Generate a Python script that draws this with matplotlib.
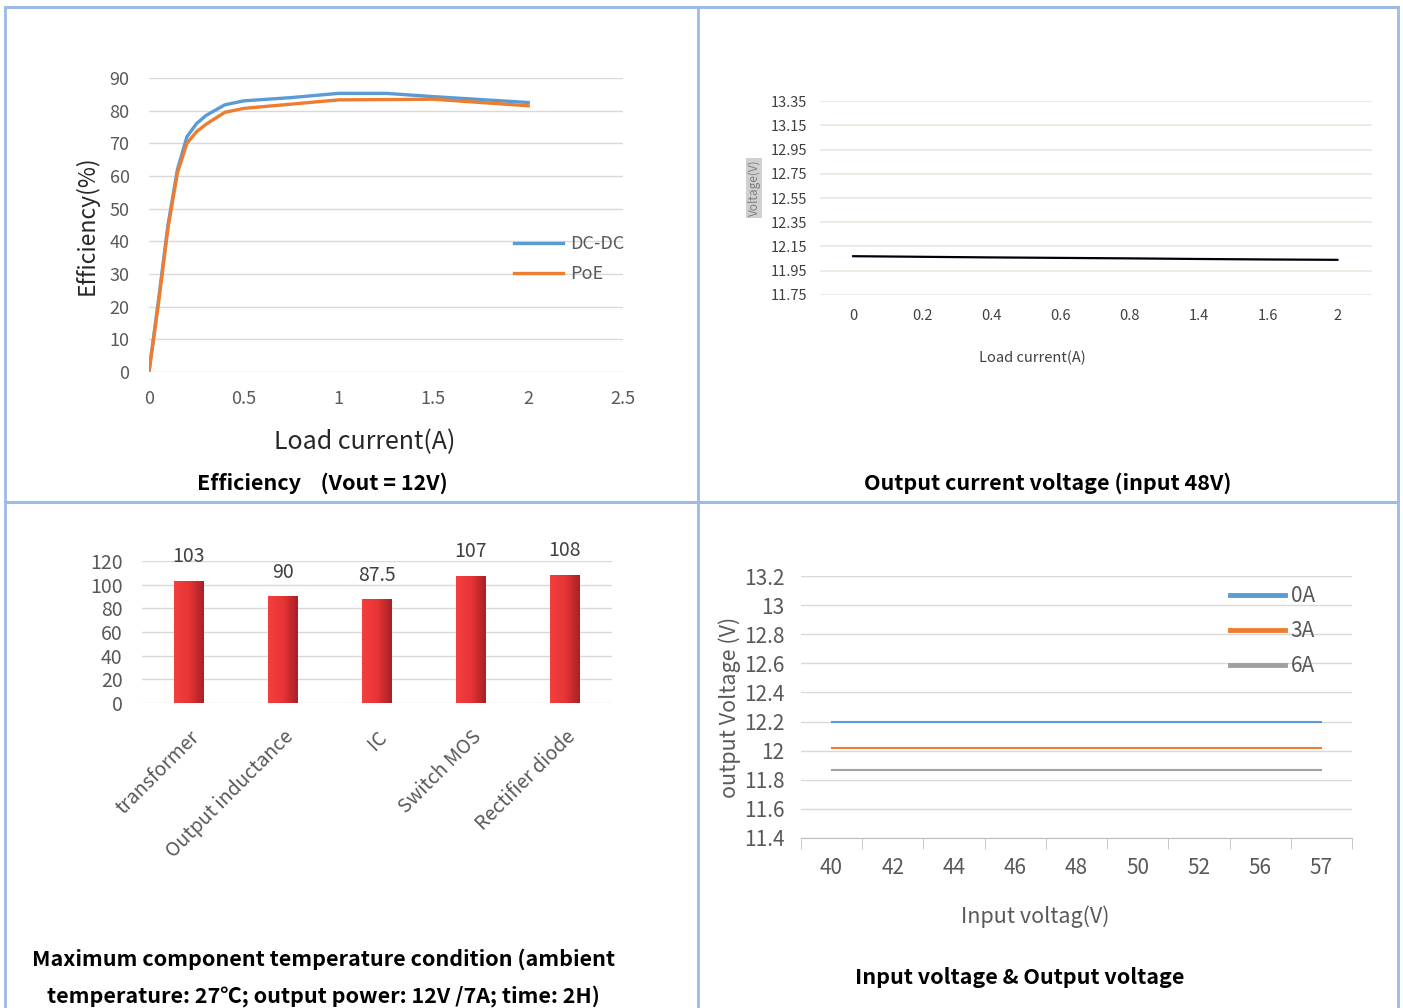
import numpy as np
import matplotlib
matplotlib.use("Agg")
import matplotlib.pyplot as plt
from matplotlib.lines import Line2D
from matplotlib.colors import LinearSegmentedColormap

plt.rcParams['font.family'] = ['Noto Sans CJK SC', 'DejaVu Sans']

# =========================
# DATA
# =========================

# efficiency vs load current
eff_current = [0, 0.05, 0.1, 0.15, 0.2, 0.25, 0.3, 0.4, 0.5, 0.75, 1.0, 1.25, 1.5, 2.0]
eff_dcdc = [0, 22, 45, 62, 72, 76, 78.5, 81.8, 83, 84, 85.3, 85.3, 84.3, 82.5]
eff_poe = [0, 21, 44, 61, 70, 73.5, 75.8, 79.5, 80.7, 82, 83.3, 83.4, 83.5, 81.5]

# output voltage vs load current (input 48V)
load_labels = ["0", "0.2", "0.4", "0.6", "0.8", "1.4", "1.6", "2"]
load_voltage = [12.07, 12.065, 12.06, 12.056, 12.052, 12.047, 12.043, 12.04]

# component temperatures
components = ["transformer", "Output inductance", "IC", "Switch MOS", "Rectifier diode"]
temps = [103, 90, 87.5, 107, 108]

# output voltage vs input voltage
vin_labels = ["40", "42", "44", "46", "48", "50", "52", "56", "57"]
vout_0a = [12.2] * 9
vout_3a = [12.02] * 9
vout_6a = [11.87] * 9

# =========================
# FIGURE
# =========================

W, H = 1403, 1008
fig = plt.figure(figsize=(W / 100, H / 100), dpi=100)
fig.patch.set_facecolor("white")


def fx(px):
    return px / W


def fy(py):
    return 1 - py / H


def axes_px(left, right, top, bottom):
    return fig.add_axes([fx(left), fy(bottom), fx(right) - fx(left), fy(top) - fy(bottom)])


TICK = "#595959"
GRID = "#D9D9D9"
TITLE_SIZE = 15.5

# table borders
border = "#9DBBE5"
for x in [5, 698, 1398]:
    fig.add_artist(Line2D([fx(x), fx(x)], [fy(7), 0], color=border, lw=2))
for y in [7, 502]:
    fig.add_artist(Line2D([fx(5), fx(1398)], [fy(y), fy(y)], color=border, lw=2.2))

# =========================
# PANEL 1: EFFICIENCY
# =========================

ax1 = axes_px(149, 623, 78, 372)
ax1.plot(eff_current, eff_dcdc, color="#5B9BD5", lw=2.4, label="DC-DC", zorder=3)
ax1.plot(eff_current, eff_poe, color="#ED7D31", lw=2.4, label="PoE", zorder=3)
ax1.set_xlim(0, 2.5)
ax1.set_ylim(0, 90)
ax1.set_xticks(np.arange(0, 2.51, 0.5))
ax1.set_xticklabels(["0", "0.5", "1", "1.5", "2", "2.5"])
ax1.set_yticks(np.arange(0, 91, 10))
ax1.grid(axis="y", color=GRID, lw=1)
ax1.set_axisbelow(True)
for s in ax1.spines.values():
    s.set_visible(False)
ax1.tick_params(length=0, labelsize=13, colors=TICK, pad=14)
ax1.tick_params(axis="x", pad=13)
ax1.set_ylabel("Efficiency(%)", fontsize=16.5, color="#262626", labelpad=8)
ax1.set_xlabel("Load current(A)", fontsize=18, color="#262626")
ax1.xaxis.set_label_coords(0.455, -0.195)
ax1.legend(loc="center left", bbox_to_anchor=(0.77, 0.384), frameon=False,
           fontsize=13, handlelength=2.7, labelspacing=0.65, borderpad=0,
           borderaxespad=0, handletextpad=0.4, labelcolor=TICK)
fig.text(fx(322), fy(483), "Efficiency    (Vout = 12V)", ha="center", va="center",
         fontsize=TITLE_SIZE, fontweight="bold")

# =========================
# PANEL 2: OUTPUT VOLTAGE VS LOAD
# =========================

ax2 = axes_px(820, 1372, 101, 295)
ax2.plot(range(len(load_labels)), load_voltage, color="black", lw=1.6)
ax2.set_xlim(-0.48, len(load_labels) - 0.5)
ax2.set_ylim(11.75, 13.35)
ax2.set_yticks(np.arange(11.75, 13.36, 0.2))
ax2.set_yticklabels([f"{v:.2f}" for v in np.arange(11.75, 13.36, 0.2)])
ax2.set_xticks(range(len(load_labels)))
ax2.set_xticklabels(load_labels)
ax2.grid(axis="y", color="#ECEAE0", lw=1.3)
ax2.set_axisbelow(True)
for s in ax2.spines.values():
    s.set_visible(False)
ax2.tick_params(length=0, labelsize=10.5, colors="#404040", pad=9)
ax2.tick_params(axis="x", pad=10)
ax2.set_xlabel("Load current(A)", fontsize=10.5, color="#404040")
ax2.xaxis.set_label_coords(0.384, -0.285)
fig.text(fx(754), fy(188), "Voltage(V)", rotation=90, ha="center", va="center",
         fontsize=8.5, color="#7F7F7F",
         bbox=dict(boxstyle="square,pad=0.15", facecolor="#D0D0D0", edgecolor="none"))
fig.text(fx(1048), fy(483), "Output current voltage (input 48V)", ha="center", va="center",
         fontsize=TITLE_SIZE, fontweight="bold")

# =========================
# PANEL 3: COMPONENT TEMPERATURE
# =========================

ax3 = axes_px(142, 612, 561, 703)
xpos = np.arange(len(components))
bars = ax3.bar(xpos, temps, width=0.31, color="#E83436", zorder=2)
red_grad = LinearSegmentedColormap.from_list("red", ["#F43F3F", "#E83436", "#A82127"])
grad = np.linspace(0, 1, 64).reshape(1, -1)
for b in bars:
    x0, w, h = b.get_x(), b.get_width(), b.get_height()
    ax3.imshow(grad, extent=(x0, x0 + w, 0, h), cmap=red_grad, aspect="auto", zorder=3)
    b.set_visible(False)
for x, v in zip(xpos, temps):
    ax3.annotate(f"{v:g}", (x, v), xytext=(0, 10), textcoords="offset points",
                 ha="center", va="bottom", fontsize=14, color="#404040", clip_on=False)
ax3.set_xlim(-0.5, len(components) - 0.5)
ax3.set_ylim(0, 120)
ax3.set_yticks(np.arange(0, 121, 20))
ax3.set_xticks(xpos)
ax3.set_xticklabels(components, rotation=45, ha="right", rotation_mode="anchor")
ax3.grid(axis="y", color=GRID, lw=1)
ax3.set_axisbelow(True)
for s in ax3.spines.values():
    s.set_visible(False)
ax3.tick_params(length=0, labelsize=14, colors=TICK, pad=14)
ax3.tick_params(axis="x", pad=17)
fig.text(fx(323), fy(959), "Maximum component temperature condition (ambient", ha="center",
         va="center", fontsize=TITLE_SIZE, fontweight="bold")
fig.text(fx(323), fy(996), "temperature: 27℃; output power: 12V /7A; time: 2H)", ha="center",
         va="center", fontsize=TITLE_SIZE, fontweight="bold")

# =========================
# PANEL 4: INPUT VS OUTPUT VOLTAGE
# =========================

ax4 = axes_px(801, 1352, 576, 838)
xv = np.arange(len(vin_labels))
ax4.plot(xv, vout_0a, color="#5B9BD5", lw=1.5, label="0A")
ax4.plot(xv, vout_3a, color="#ED7D31", lw=1.5, label="3A")
ax4.plot(xv, vout_6a, color="#A0A0A0", lw=1.5, label="6A")
ax4.set_xlim(-0.5, len(vin_labels) - 0.5)
ax4.set_ylim(11.4, 13.2)
ax4.set_yticks(np.arange(11.4, 13.21, 0.2))
ax4.set_yticklabels([f"{v:.1f}".rstrip("0").rstrip(".") for v in np.arange(11.4, 13.21, 0.2)])
ax4.set_xticks(xv)
ax4.set_xticklabels(vin_labels)
ax4.set_xticks(np.arange(-0.5, len(vin_labels)), minor=True)
ax4.grid(axis="y", color=GRID, lw=1)
ax4.set_axisbelow(True)
for k in ["top", "right", "left"]:
    ax4.spines[k].set_visible(False)
ax4.spines["bottom"].set_color("#BFBFBF")
ax4.tick_params(axis="x", which="major", length=0, pad=14)
ax4.tick_params(axis="x", which="minor", length=8, color="#BFBFBF")
ax4.tick_params(axis="y", length=0, pad=12)
ax4.tick_params(labelsize=15, colors=TICK)
ax4.tick_params(axis="x", which="minor", colors="#BFBFBF")
ax4.set_xlabel("Input voltag(V)", fontsize=15.5, color=TICK)
ax4.xaxis.set_label_coords(0.425, -0.258)
ax4.set_ylabel("output Voltage (V)", fontsize=15.5, color=TICK, labelpad=2)
leg = ax4.legend(loc="center left", bbox_to_anchor=(0.779, 0.79), frameon=False,
                 fontsize=15, handlelength=2.65, labelspacing=0.62, borderpad=0,
                 borderaxespad=0, handletextpad=0.25, labelcolor=TICK)
for line in leg.get_lines():
    line.set_linewidth(3.5)
fig.text(fx(1020), fy(978), "Input voltage & Output voltage", ha="center", va="center",
         fontsize=TITLE_SIZE, fontweight="bold")

fig.savefig("out.png", dpi=100, facecolor="white")
